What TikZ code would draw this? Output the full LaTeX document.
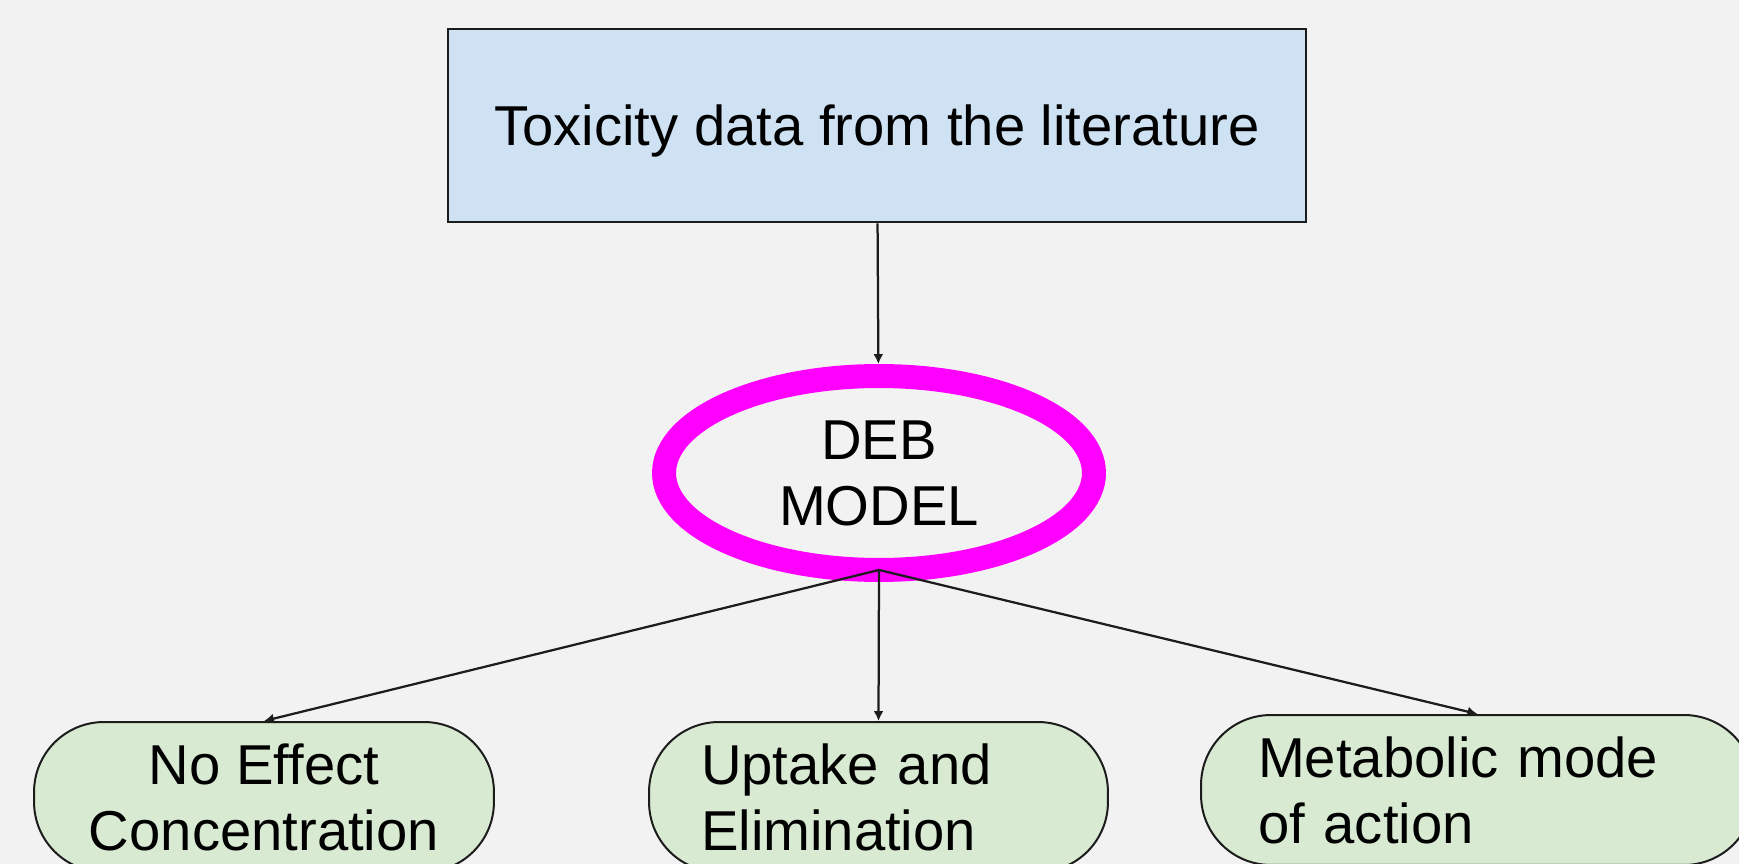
\documentclass[tikz,border=0pt]{standalone}
\usepackage{fontspec}
\setmainfont{Liberation Sans}
\usetikzlibrary{arrows.meta,shapes.geometric}
\definecolor{bggray}{HTML}{F2F2F2}
\definecolor{srcblue}{HTML}{CFE2F3}
\definecolor{outgreen}{HTML}{D9EAD3}
\definecolor{debpink}{HTML}{FF00FF}
\definecolor{inkblack}{HTML}{1C1C1C}
\tikzset{
  srcbox/.style={draw=inkblack, fill=srcblue, line width=0.055cm, minimum width=17.16cm, minimum height=3.86cm, text depth=0pt},
  debring/.style={ellipse, draw=debpink, line width=0.48cm, minimum width=8.6cm, minimum height=3.88cm, align=center},
  outbox/.style={draw=inkblack, fill=outgreen, line width=0.04cm, rounded corners=1.4cm, minimum height=3cm},
  link/.style={draw=inkblack, line width=0.045cm, -{Latex[length=0.2cm,width=0.2cm]}},
}

\begin{document}
\begin{tikzpicture}[x=0.02cm, y=-0.02cm, font=\fontsize{32}{37.5}\selectfont]
  \useasboundingbox (0,0) rectangle (1739,864);
  \fill[bggray] (0,0) rectangle (1739,864);

  %% source and model
  \node[srcbox] (tox) at (877,125.5) {Toxicity data from the literature};
  \node[debring] (deb) at (879,473) {DEB\\MODEL};

  %% outputs
  \node[outbox, minimum width=9.2cm, align=center] (noec) at (264,797) {No Effect\\Concentration};
  \node[outbox, minimum width=9.18cm, text width=7.1cm, align=left] (uptake) at (878.5,797) {Uptake and\\Elimination};
  \node[outbox, minimum width=11.06cm, text width=8.78cm, align=left] (mode) at (1477.5,790) {Metabolic mode\\of action};

  %% connectors
  \draw[link] (tox) -- (deb);
  \draw[link] ([yshift=0.24cm]deb.south) -- (noec.north);
  \draw[link] ([yshift=0.24cm]deb.south) -- (uptake.north);
  \draw[link] ([yshift=0.24cm]deb.south) -- (mode.north);
\end{tikzpicture}
\end{document}
